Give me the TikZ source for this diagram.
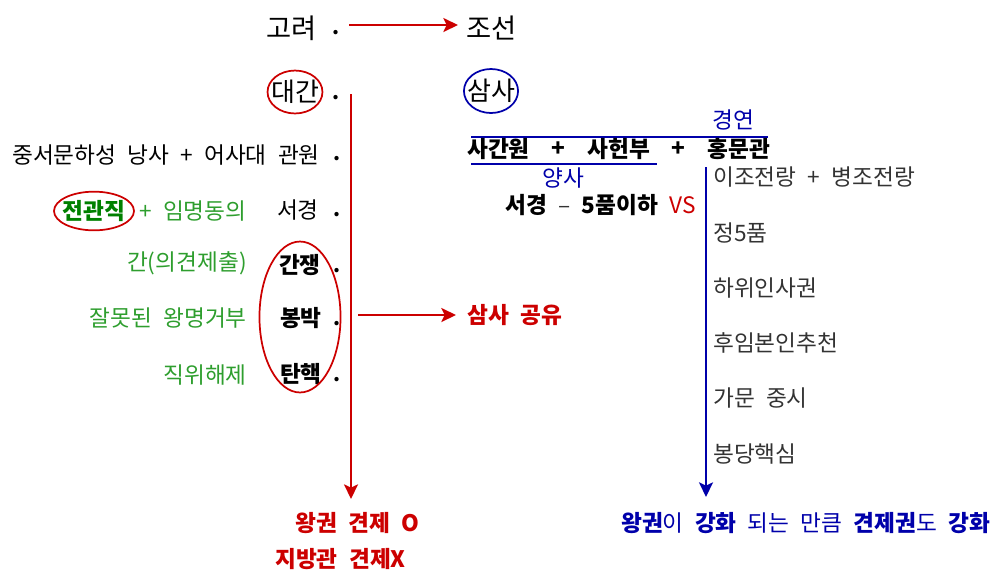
\documentclass[tikz,border=0pt]{standalone}
\usepackage{fontspec}
\setmainfont{Noto Sans CJK KR}[WordSpace=2.2]
\usetikzlibrary{arrows.meta,shapes.geometric}
\definecolor{rd}{HTML}{CC0000}
\definecolor{bl}{HTML}{0000AA}
\definecolor{gr}{HTML}{2E9E2E}
\definecolor{dg}{HTML}{008000}
\definecolor{tx}{HTML}{333333}
\begin{document}
\begin{tikzpicture}[x=0.75pt,y=-0.75pt,
  t/.style={inner sep=0pt, font=\fontsize{17}{20}\selectfont},
  tb/.style={inner sep=0pt, font=\fontsize{17}{20}\selectfont\bfseries},
  big/.style={inner sep=0pt, font=\fontsize{20.5}{24}\selectfont},
  mid/.style={inner sep=0pt, font=\fontsize{19.5}{23}\selectfont},
  ra/.style={draw=rd, line width=1.4pt, -{Stealth[length=11pt,width=10.5pt,inset=2.5pt]}},
  ba/.style={draw=bl, line width=1.4pt, -{Stealth[length=11pt,width=10.5pt,inset=2.5pt]}},
  bline/.style={draw=bl, line width=1.4pt},
  ring/.style={draw=#1, line width=1.3pt},
  dotn/.style={inner sep=0pt, font=\fontsize{15}{18}\selectfont\bfseries}]
\useasboundingbox (0,0) rectangle (999,569);

% top row
\node[big, anchor=east] (goryeo) at (317,28) {고려};
\node[dotn] (d0) at (336,33) {.};
\node[big, anchor=west] (joseon) at (466,28) {조선};
\coordinate (a1s) at (349,25);
\coordinate (a1e) at (458,25);
\draw[ra] (a1s) -- (a1e);

% left column
\node[mid] (daegan) at (295,92) {대간};
\draw[ring=rd] (daegan.center) ellipse [x radius=20.6pt, y radius=16.1pt];
\node[dotn] (d1) at (336,98) {.};
\node[t, anchor=east] (jung) at (320,155) {중서문하성 낭사 + 어사대 관원};
\node[dotn] (d2) at (337,159) {.};
\node[tb, text=dg] (jeon) at (94,211) {전관직};
\draw[ring=rd] (jeon.center) ellipse [x radius=30pt, y radius=14.5pt];
\node[t, text=gr, anchor=west] (imm) at (139,211) {+ 임명동의};
\node[t, anchor=east] (seo) at (319,210) {서경};
\node[dotn] (d3) at (337,215) {.};
\node[t, text=gr, anchor=east] (gan) at (247,263) {간(의견제출)};
\node[tb, anchor=east] (ganj) at (321,265) {간쟁};
\node[dotn] (d4) at (337,271) {.};
\node[t, text=gr, anchor=east] (jal) at (247,318) {잘못된 왕명거부};
\node[tb, anchor=east] (bong) at (322,318) {봉박};
\node[dotn] (d5) at (337,324) {.};
\node[t, text=gr, anchor=east] (jik) at (247,375) {직위해제};
\node[tb, anchor=east] (tan) at (322,374) {탄핵};
\node[dotn] (d6) at (337,380) {.};
\coordinate (grp) at (300,317);
\draw[ring=rd] (grp) ellipse [x radius=30.4pt, y radius=56.6pt];

\coordinate (rv1) at (351,94);
\coordinate (rv2) at (351,499);
\draw[ra] (rv1) -- (rv2);
\node[tb, text=rd, anchor=west] (gongyu) at (467,315) {삼사 공유};
\coordinate (a2s) at (358,315);
\coordinate (a2e) at (456,315);
\draw[ra] (a2s) -- (a2e);
\node[tb, text=rd, anchor=west] (wk1) at (295,523) {왕권 견제 O};
\node[tb, text=rd, anchor=west] (wk2) at (275,559) {지방관 견제X};

% right part
\node[mid] (samsa) at (491,91) {삼사};
\draw[ring=bl] (samsa.center) ellipse [x radius=20.3pt, y radius=16.5pt];
\node[t, text=bl] (gyeong) at (733,120) {경연};
\coordinate (l1a) at (471,137);
\coordinate (l1b) at (768,137);
\draw[bline] (l1a) -- (l1b);
\node[tb, anchor=west] (sagan) at (467,149) {사간원};
\node[tb] (p1) at (558,149) {+};
\node[tb] (saheon) at (619,149) {사헌부};
\node[tb] (p2) at (678,149) {+};
\node[tb] (hong) at (739,149) {홍문관};
\coordinate (l2a) at (471,164);
\coordinate (l2b) at (657,164);
\draw[bline] (l2a) -- (l2b);
\node[t, text=bl] (yang) at (563,178) {양사};
\node[tb, anchor=west] (seo2) at (505,205) {서경 {\mdseries\color{tx}–} 5품이하 {\mdseries\color{rd}VS}};

\coordinate (bv1) at (706,167);
\coordinate (bv2) at (706,497);
\draw[ba] (bv1) -- (bv2);
\node[t, text=tx, anchor=west] (r1) at (713,177) {이조전랑 + 병조전랑};
\node[t, text=tx, anchor=west] (r2) at (713,233) {정5품};
\node[t, text=tx, anchor=west] (r3) at (713,288) {하위인사권};
\node[t, text=tx, anchor=west] (r4) at (713,343) {후임본인추천};
\node[t, text=tx, anchor=west] (r5) at (713,398) {가문 중시};
\node[t, text=tx, anchor=west] (r6) at (713,454) {봉당핵심};
\node[t, text=bl, anchor=west] (bot) at (621,523) {{\bfseries 왕권}이 {\bfseries 강화} 되는 만큼 {\bfseries 견제권}도 {\bfseries 강화}};
\end{tikzpicture}
\end{document}
